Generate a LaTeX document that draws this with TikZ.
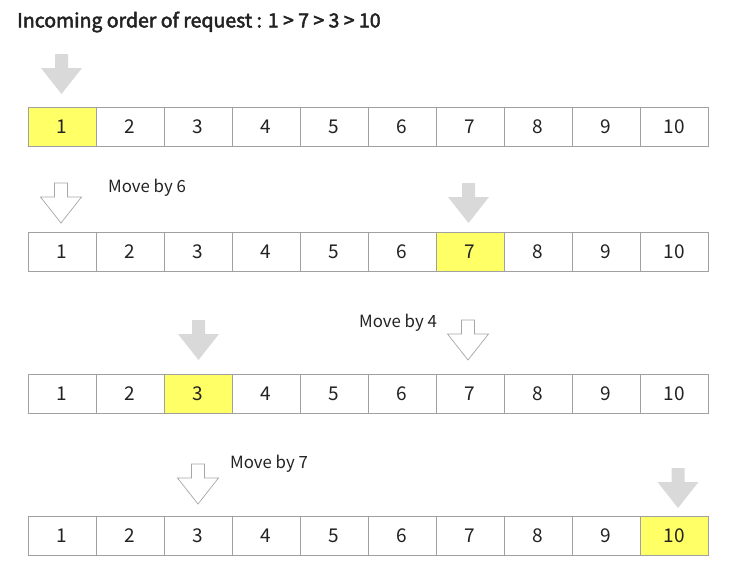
\documentclass[tikz,border=0pt]{standalone}
\usepackage{fontspec}
\setmainfont{Noto Sans CJK KR}
\newfontfamily\titlefont[FakeBold=2.5]{Noto Sans CJK KR}
\usetikzlibrary{positioning}

\definecolor{hlyellow}{HTML}{FFFF66}
\definecolor{cellgrey}{HTML}{A0A0A0}
\definecolor{arrgrey}{HTML}{D9D9D9}
\definecolor{arrline}{HTML}{A6A6A6}
\definecolor{txt}{HTML}{222222}

\tikzset{
	cell/.style={draw=cellgrey, line width=0.8pt, minimum width=68pt, minimum height=39pt,
		inner sep=0pt, text=txt, font=\fontsize{19}{19}\selectfont},
	movelabel/.style={anchor=west, inner sep=0pt, text=txt, font=\fontsize{16.8}{16.8}\selectfont},
	pics/downarr/.style={code={
		\path[pic actions] (-6.5,0) -- (6.5,0) -- (6.5,14) -- (20.5,14) -- (0,40)
			-- (-20.5,14) -- (-6.5,14) -- cycle;}},
	fullarr/.style={fill=arrgrey, draw=none},
	openarr/.style={fill=white, draw=arrline, line width=0.7pt}
}

\begin{document}
\begin{tikzpicture}[x=1pt,y=-1pt]
		\useasboundingbox (0,0) rectangle (735,587);
		\node[anchor=west, inner sep=0pt, text=txt, font=\titlefont\fontsize{19.5}{19.5}\selectfont] (title) at (17,22) {Incoming order of request : 1 > 7 > 3 > 10};
		% rows of cells
		\foreach \r/\ytop/\hl in {1/107/1, 2/232/7, 3/374/3, 4/516/10}
		{
			\foreach \c in {1,...,10}
			{
				\ifnum\c=\hl \def\cellfill{hlyellow}\else\def\cellfill{white}\fi
				\node[cell, fill=\cellfill] (r\r c\c) at ({68*\c-6},{\ytop+19.5}) {\c};
			}
		}
		% arrows
		\pic[fullarr] at (61.5,54) {downarr};
		\pic[openarr] at (61,183) {downarr};
		\pic[fullarr] at (468.5,183) {downarr};
		\pic[fullarr] at (198.5,320) {downarr};
		\pic[openarr] at (468,320) {downarr};
		\pic[openarr] at (198,464) {downarr};
		\pic[fullarr] at (678,468) {downarr};
		% labels
		\node[movelabel] (move6) at (108,188) {Move by 6};
		\node[movelabel] (move4) at (359,323) {Move by 4};
		\node[movelabel] (move7) at (230,464) {Move by 7};
\end{tikzpicture}
\end{document}
